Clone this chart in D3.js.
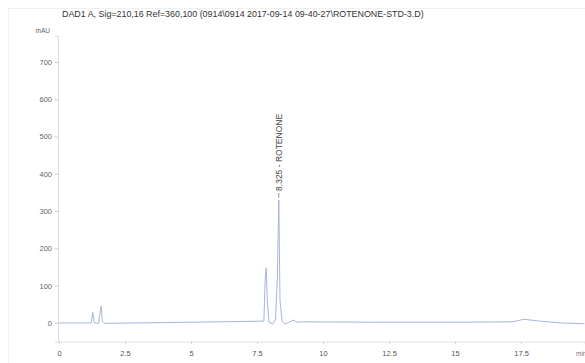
<!DOCTYPE html>
<html>
<head>
<meta charset="utf-8">
<script src="https://cdn.jsdelivr.net/npm/d3@7"></script>
<style>
  body { margin: 0; background: #fff; }
  svg { display: block; font-family: "Liberation Sans", Arial, sans-serif; }
</style>
</head>
<body>
<svg width="585" height="363"></svg>
<script>
const svg_width = 585;
const svg_height = 363;

// chromatogram trace (time in min, signal in mAU)
const times = [0, 1.22, 1.28, 1.34, 1.5, 1.56, 1.6, 1.64, 1.72, 3, 5, 7, 7.76, 7.81, 7.85, 7.89, 7.95, 8.1, 8.2, 8.27, 8.325, 8.37, 8.45, 8.55, 8.7, 8.9, 9.0, 9.2, 12, 15, 17.2, 17.6, 18.2, 19, 19.9];
const signal = [0, 0, 28, 0, -1, 30, 45, 5, -1, 0, 2, 4, 5, 120, 147, 60, 2, -3, 10, 120, 330, 60, 5, -3, 2, 8, 2, 3, 2, 2, 3, 10, 5, 0, -2];

const x_ticks = [0, 2.5, 5, 7.5, 10, 12.5, 15, 17.5];
const y_ticks = [0, 100, 200, 300, 400, 500, 600, 700];

const peak_labels = [{ time: 8.325, value: 330, text: "8.325 - ROTENONE" }];

const title_text = "DAD1 A, Sig=210,16 Ref=360,100 (0914\\0914 2017-09-14 09-40-27\\ROTENONE-STD-3.D)";

function drawChart() {
  const svg = d3.select("svg");

  const x = d3.scaleLinear().domain([0, 19.9]).range([59, 584.4]);
  const y = d3.scaleLinear().domain([-50, 770]).range([341.6, 35.9]);

  // faint page border from the scan
  svg.append("rect")
    .attr("x", 8.5).attr("y", 8.5)
    .attr("width", 590).attr("height", 360)
    .attr("fill", "none")
    .attr("stroke", "#f0f0f0");

  svg.append("text")
    .attr("x", 62).attr("y", 17)
    .attr("font-size", 8.9)
    .attr("fill", "#333")
    .text(title_text);

  svg.append("text")
    .attr("x", 50).attr("y", 33)
    .attr("text-anchor", "end")
    .attr("font-size", 6.5)
    .attr("fill", "#666")
    .text("mAU");

  // y axis
  const y_axis = d3.axisLeft(y).tickValues(y_ticks).tickSize(3).tickPadding(3);
  const gy = svg.append("g").attr("transform", `translate(${x(0) - 1},0)`).call(y_axis);
  gy.select(".domain").attr("stroke", "#ddd");
  gy.selectAll(".tick line").attr("stroke", "#ccc");
  gy.selectAll(".tick text").attr("fill", "#666").attr("font-size", 7.5);

  // x axis
  const x_axis = d3.axisBottom(x).tickValues(x_ticks).tickFormat(d => String(d))
    .tickSize(2).tickPadding(7);
  const gx = svg.append("g").attr("transform", `translate(0,${y(-50)})`).call(x_axis);
  gx.select(".domain").attr("stroke", "#e2e2e2");
  gx.selectAll(".tick line").attr("stroke", "#ccc");
  gx.selectAll(".tick text").attr("fill", "#555").attr("font-size", 7.5);

  svg.append("text")
    .attr("x", 576).attr("y", 356)
    .attr("font-size", 6.5)
    .attr("fill", "#777")
    .text("min");

  // trace
  const pts = times.map((t, i) => [t, signal[i]]);
  const line = d3.line().x(d => x(d[0])).y(d => y(d[1]));
  svg.append("path")
    .datum(pts)
    .attr("fill", "none")
    .attr("stroke", "#a9b5dc")
    .attr("stroke-width", 1)
    .attr("d", line);

  // peak annotation
  const lab = svg.selectAll(".peak-label").data(peak_labels).enter().append("g")
    .attr("class", "peak-label");
  lab.append("line")
    .attr("x1", d => x(d.time)).attr("x2", d => x(d.time))
    .attr("y1", d => y(d.value) - 2).attr("y2", d => y(d.value) - 7)
    .attr("stroke", "#999");
  lab.append("text")
    .attr("transform", d => `translate(${x(d.time) + 3},${y(d.value) - 9}) rotate(-90)`)
    .attr("font-size", 8.5)
    .attr("fill", "#444")
    .text(d => d.text);
}

drawChart();
</script>
</body>
</html>
